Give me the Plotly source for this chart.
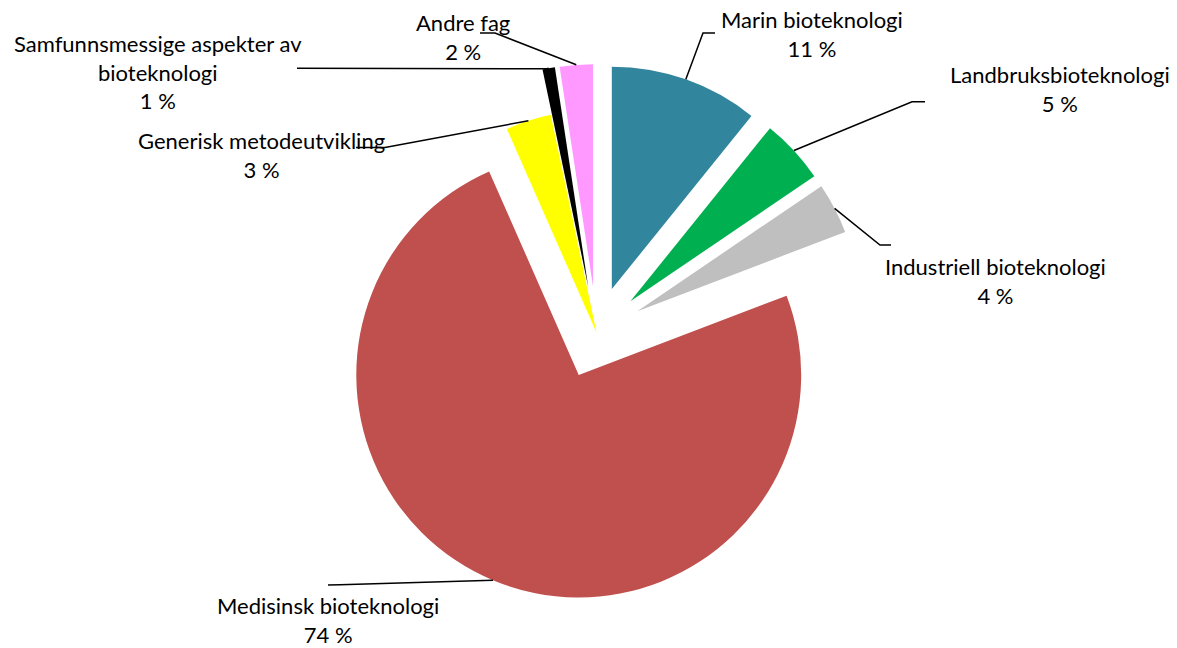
import math
import plotly.graph_objects as go

# ---- data ----
categories = ["Marin bioteknologi", "Landbruksbioteknologi", "Industriell bioteknologi",
              "Medisinsk bioteknologi", "Generisk metodeutvikling",
              "Samfunnsmessige aspekter av bioteknologi", "Andre fag"]
shares = [10.8, 4.7, 3.7, 74.2, 3.3, 0.9, 2.4]
colors = ["#31859C", "#00B050", "#BFBFBF", "#C0504D", "#FFFF00", "#000000", "#FF99FF"]
pulls = [0.207, 0.207, 0.207, 0.207, 0.0, 0.207, 0.207]
display_names = ["Marin bioteknologi", "Landbruksbioteknologi", "Industriell bioteknologi",
                 "Medisinsk bioteknologi", "Generisk metodeutvikling",
                 "Samfunnsmessige aspekter av<br>bioteknologi", "Andre fag"]

# ---- layout (page pixels; body margin is removed below) ----
W, H = 1177, 648
pie_left, pie_right, pie_top, pie_bottom = 328, 865, 64, 601
label_pos = [(812, 34), (1059.5, 89), (995.5, 280.5), (327.5, 620),
             (261, 155), (157.5, 72), (463, 37)]
leader_pts = [
    [(703, 33), (715, 33)],
    [(912, 101.7), (925, 101.7)],
    [(880, 245), (891, 245)],
    [(340, 584.7), (328, 585)],
    [(385, 147.5), (356, 147.5)],
    [(546.7, 68.8), (297, 68.3)],
    [(495, 33), (480, 33)],
]

def P(x, y):
    """page px -> paper coords"""
    return x / W, 1 - y / H

dom_x = [P(pie_left, 0)[0], P(pie_right, 0)[0]]
dom_y = [P(0, pie_bottom)[1], P(0, pie_top)[1]]

fig = go.Figure(go.Pie(
    labels=categories, values=shares, sort=False, direction="clockwise", rotation=0,
    pull=pulls, marker=dict(colors=colors, line=dict(width=0)),
    textinfo="none", hoverinfo="label+percent",
    domain=dict(x=dom_x, y=dom_y), showlegend=False,
))

# geometry as plotly computes it
bw = W * (dom_x[1] - dom_x[0])
bh = H * (dom_y[1] - dom_y[0])
R = min(bw, bh) / 2 / (1 + max(pulls))
cx = W * (dom_x[0] + dom_x[1]) / 2
cy = H * (1 - dom_y[0]) - bh / 2
total = sum(shares)

annotations = []
shapes = []
cum = 0.0
for i, v in enumerate(shares):
    mid = (cum + v / 2) / total * 2 * math.pi
    cum += v
    d = pulls[i] * R
    sx = cx + (d + R) * math.sin(mid)
    sy = cy - (d + R) * math.cos(mid)
    pts = [(sx, sy)] + leader_pts[i]
    path = ""
    for j, (x, y) in enumerate(pts):
        px, py = P(x, y)
        path += ("M" if j == 0 else " L") + f"{px:.5f},{py:.5f}"
    shapes.append(dict(type="path", xref="paper", yref="paper", path=path,
                       line=dict(color="black", width=1.5)))
    lx, ly = P(*label_pos[i])
    annotations.append(dict(
        x=lx, y=ly, xref="paper", yref="paper", xanchor="center", yanchor="middle",
        text=f"{display_names[i]}<br>{round(v / total * 100)} %", showarrow=False,
        borderpad=0,
        font=dict(family="Lato", size=22, color="black"), align="center"))

fig.update_layout(
    width=W, height=H, margin=dict(l=0, r=0, t=0, b=0),
    paper_bgcolor="white", plot_bgcolor="white",
    annotations=annotations, shapes=shapes,
)
fig.write_html("out.html", config={"displayModeBar": False},
               post_script="document.body.style.margin='0';document.body.style.overflow='hidden';")
